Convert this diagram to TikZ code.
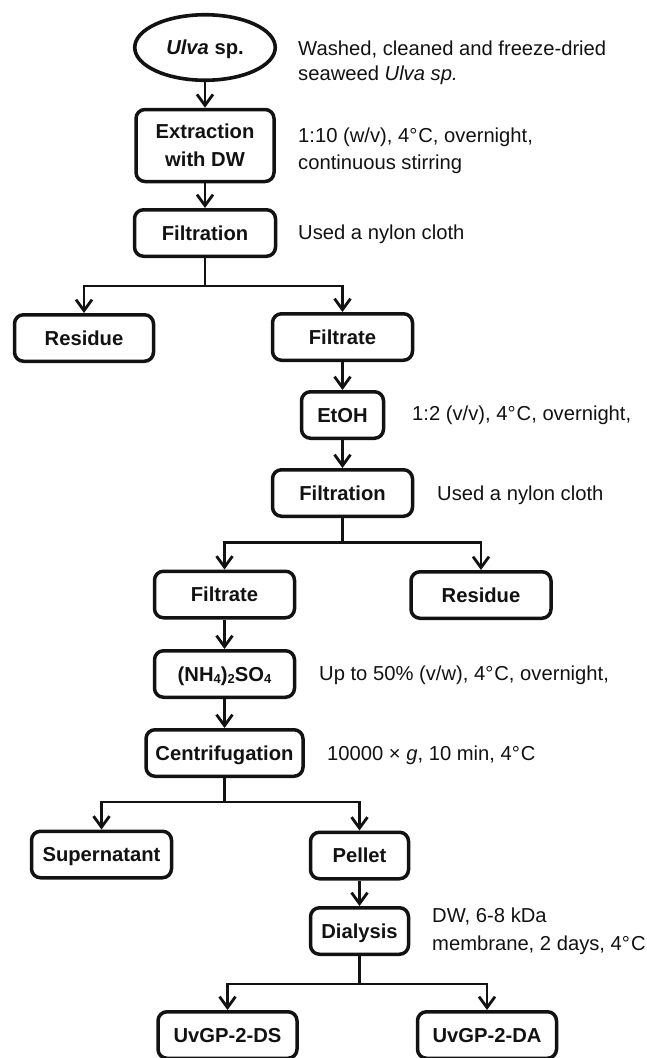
\documentclass[tikz,border=0pt]{standalone}
\usepackage{fontspec}
\setmainfont{Liberation Sans}
\usetikzlibrary{arrows.meta,shapes.geometric}
\definecolor{ink}{RGB}{18,18,18}
\newcommand{\subnum}[1]{\raisebox{-0.25ex}{\fontsize{13}{13}\selectfont #1}}
\begin{document}
\begin{tikzpicture}[x=1pt,y=-1pt,
  font=\fontsize{20.2}{27}\selectfont,
  box/.style={draw=ink, line width=3.5pt, rounded corners=9pt, minimum width=140pt,
    minimum height=46.5pt, inner sep=0pt, font=\fontsize{20.2}{28}\selectfont\bfseries,
    text=ink, align=center},
  lbl/.style={text height=14.5pt, text depth=0pt},
  oval/.style={draw=ink, line width=3.6pt, ellipse, inner sep=0pt,
    font=\fontsize{20.2}{24}\selectfont\bfseries, text=ink},
  note/.style={anchor=base west, inner sep=0pt, text=ink},
  conn/.style={draw=ink, line width=2.8pt},
  arr/.style={conn, -{Straight Barb[length=11pt,width=16pt]}},
]
\useasboundingbox (0,0) rectangle (646,1058);

% main column nodes
\node[oval, lbl, minimum width=140.5pt, minimum height=65.5pt] (ulva) at (205,47.5) {\textit{Ulva} sp.};
\node[box, minimum width=138pt, minimum height=72pt] (extr) at (205,145.5) {Extraction\\with DW};
\node[box, lbl, minimum width=141pt] (filt1) at (205,233) {Filtration};
\node[box, lbl, minimum width=139pt] (res1) at (84,338) {Residue};
\node[box, lbl] (filtr1) at (342.5,337) {Filtrate};
\node[box, lbl, minimum width=82pt] (etoh) at (342.5,415) {EtOH};
\node[box, lbl] (filt2) at (342.5,493) {Filtration};
\node[box, lbl] (filtr2) at (224.5,594.5) {Filtrate};
\node[box, lbl] (res2) at (481,595) {Residue};
\node[box, lbl] (nh4) at (224.5,674) {(NH\subnum{4})\subnum{2}SO\subnum{4}};
\node[box, lbl, minimum width=157pt] (cent) at (224.5,753) {Centrifugation};
\node[box, lbl] (super) at (101.5,854.5) {Supernatant};
\node[box, lbl, minimum width=98pt] (pellet) at (359.5,855.5) {Pellet};
\node[box, lbl, minimum width=98pt] (dial) at (359.5,931) {Dialysis};
\node[box, lbl, minimum width=139pt] (ds) at (227.5,1035) {UvGP-2-DS};
\node[box, lbl, minimum width=139pt] (da) at (487,1035) {UvGP-2-DA};

% split points
\coordinate (s1) at (205,286);
\coordinate (s2) at (342.5,542.5);
\coordinate (s3) at (224.5,802);
\coordinate (s4) at (359.5,984);

% connectors
\draw[arr] (ulva) -- (extr);
\draw[arr] (extr) -- (filt1);
\draw[conn] (filt1.south) -- (s1);
\draw[arr] (s1) -| (res1.north);
\draw[arr] (s1) -| (filtr1.north);
\draw[arr] (filtr1) -- (etoh);
\draw[arr] (etoh) -- (filt2);
\draw[conn] (filt2.south) -- (s2);
\draw[arr] (s2) -| (filtr2.north);
\draw[arr] (s2) -| (res2.north);
\draw[arr] (filtr2) -- (nh4);
\draw[arr] (nh4) -- (cent);
\draw[conn] (cent.south) -- (s3);
\draw[arr] (s3) -| (super.north);
\draw[arr] (s3) -| (pellet.north);
\draw[arr] (pellet) -- (dial);
\draw[conn] (dial.south) -- (s4);
\draw[arr] (s4) -| (ds.north);
\draw[arr] (s4) -| (da.north);

% annotations
\node[note] (n1a) at (298,55) {Washed, cleaned and freeze-dried};
\node[note] (n1b) at (298,80) {seaweed \textit{Ulva sp.}};
\node[note] (n2a) at (298,142) {1:10 (w/v), 4°\kern1pt C, overnight,};
\node[note] (n2b) at (298,169) {continuous stirring};
\node[note] (n3) at (298,239) {Used a nylon cloth};
\node[note] (n4) at (412,420) {1:2 (v/v), 4°\kern1pt C, overnight,};
\node[note] (n5) at (437,500) {Used a nylon cloth};
\node[note] (n6) at (319,680) {Up to 50\% (v/w), 4°\kern1pt C, overnight,};
\node[note] (n7) at (327,760) {10000 × \textit{g}, 10 min, 4°\kern1pt C};
\node[note] (n8a) at (432,922) {DW, 6-8 kDa};
\node[note] (n8b) at (432,950) {membrane, 2 days, 4°\kern1pt C};
\end{tikzpicture}
\end{document}
